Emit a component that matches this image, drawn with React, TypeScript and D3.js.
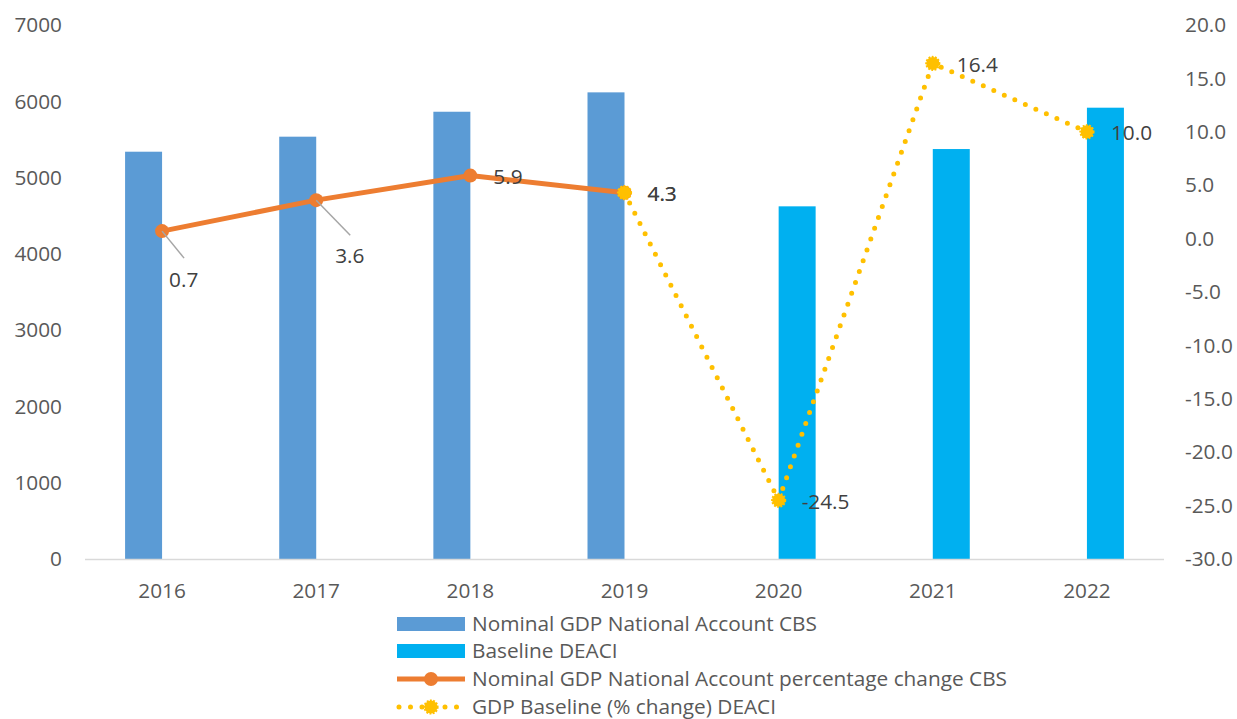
import React from "react";
import * as d3 from "d3";

const years = ["2016", "2017", "2018", "2019", "2020", "2021", "2022"];
const nominalGdpCBS: (number | null)[] = [5339, 5536, 5863, 6117, null, null, null];
const baselineDEACI: (number | null)[] = [null, null, null, null, 4623, 5374, 5916];
const pctChangeCBS: (number | null)[] = [0.7, 3.6, 5.9, 4.3, null, null, null];
const pctChangeDEACI: (number | null)[] = [null, null, null, 4.3, -24.5, 16.4, 10.0];
const leftTicks = [0, 1000, 2000, 3000, 4000, 5000, 6000, 7000];
const rightTicks = [-30, -25, -20, -15, -10, -5, 0, 5, 10, 15, 20];
const legendLabels = [
  "Nominal GDP National Account CBS",
  "Baseline DEACI",
  "Nominal GDP National Account percentage change CBS",
  "GDP Baseline (% change) DEACI",
];

// label placement offsets (text start / baseline relative to marker, optional leader end)
const cbsLabelOffsets = [
  { dx: 7, dy: 56, lx: 22, ly: 27 },
  { dx: 19, dy: 63, lx: 34, ly: 35 },
  { dx: 23, dy: 8.5 },
  { dx: 23, dy: 8.5 },
];
const deaciLabelOffsets = [null, null, null, { dx: 23, dy: 8.5 }, { dx: 23, dy: 8.5 }, { dx: 24, dy: 8.5 }, { dx: 24, dy: 8.5 }];

const W = 1237;
const H = 719;
const FONT = "'Open Sans', sans-serif";
const FS = 20.8;
const AXIS_COLOR = "#595959";
const LABEL_COLOR = "#404040";
const C_CBS = "#5B9BD5";
const C_BASE = "#00B0F0";
const C_ORANGE = "#ED7D31";
const C_YELLOW = "#FFC000";

export default function App() {
  const left = 85, right = 1164, top = 25, bottom = 559;
  const x = d3.scaleBand<string>().domain(years).range([left, right]).padding(0);
  const yL = d3.scaleLinear().domain([0, 7000]).range([bottom, top]);
  const yR = d3.scaleLinear().domain([-30, 20]).range([bottom, top]);
  const bw = x.bandwidth() * 0.24;
  const cx = (yr: string) => (x(yr) as number) + x.bandwidth() / 2;

  const line = d3
    .line<[string, number | null]>()
    .defined((d) => d[1] !== null)
    .x((d) => cx(d[0]))
    .y((d) => yR(d[1] as number));

  const cbsPts = years.map((y, i) => [y, pctChangeCBS[i]] as [string, number | null]);
  const deaciPts = years.map((y, i) => [y, pctChangeDEACI[i]] as [string, number | null]);

  const Sun = ({ x0, y0 }: { x0: number; y0: number }) => (
    <circle cx={x0} cy={y0} r={6.5} fill={C_YELLOW} stroke={C_YELLOW} strokeWidth={2.2} strokeDasharray="1.8 1.4" />
  );

  const legendX = 397, legendW = 68, legendTextX = 472;
  const legendY = [624, 651, 679, 707];

  return (
    <svg width={W} height={H} style={{ position: "absolute", left: 0, top: 0, background: "#fff" }} fontFamily={FONT}>
      {/* bars */}
      {years.map((yr, i) =>
        nominalGdpCBS[i] !== null ? (
          <rect key={"c" + yr} x={cx(yr) - bw} y={yL(nominalGdpCBS[i] as number)} width={bw} height={bottom - yL(nominalGdpCBS[i] as number)} fill={C_CBS} />
        ) : null
      )}
      {years.map((yr, i) =>
        baselineDEACI[i] !== null ? (
          <rect key={"b" + yr} x={cx(yr)} y={yL(baselineDEACI[i] as number)} width={bw} height={bottom - yL(baselineDEACI[i] as number)} fill={C_BASE} />
        ) : null
      )}
      {/* x axis line */}
      <line x1={left} x2={right} y1={bottom + 0.5} y2={bottom + 0.5} stroke="#D9D9D9" strokeWidth={1.5} />

      {/* left ticks */}
      {leftTicks.map((t) => (
        <text key={"l" + t} x={62} y={yL(t)} dy="0.35em" textAnchor="end" fontSize={FS} fill={AXIS_COLOR}>
          {t}
        </text>
      ))}
      {/* right ticks */}
      {rightTicks.map((t) => (
        <text key={"r" + t} x={1185} y={yR(t)} dy="0.35em" textAnchor="start" fontSize={FS} fill={AXIS_COLOR}>
          {t.toFixed(1)}
        </text>
      ))}
      {/* x ticks */}
      {years.map((yr) => (
        <text key={"x" + yr} x={cx(yr)} y={598} textAnchor="middle" fontSize={FS} fill={AXIS_COLOR}>
          {yr}
        </text>
      ))}

      {/* orange line */}
      <path d={line(cbsPts) || ""} fill="none" stroke={C_ORANGE} strokeWidth={5} strokeLinejoin="round" />
      {cbsPts.map((d) => (d[1] !== null ? <circle key={"o" + d[0]} cx={cx(d[0])} cy={yR(d[1])} r={7} fill={C_ORANGE} /> : null))}

      {/* yellow dotted line */}
      <path d={line(deaciPts) || ""} fill="none" stroke={C_YELLOW} strokeWidth={5} strokeLinecap="round" strokeDasharray="0 11.5" />
      {deaciPts.map((d) => (d[1] !== null ? <Sun key={"s" + d[0]} x0={cx(d[0])} y0={yR(d[1])} /> : null))}

      {/* labels CBS */}
      {cbsPts.map((d, i) => {
        const o = cbsLabelOffsets[i];
        if (d[1] === null || !o) return null;
        const mx = cx(d[0]), my = yR(d[1]);
        return (
          <g key={"lc" + i}>
            {o.lx !== undefined ? <line x1={mx} y1={my} x2={mx + o.lx} y2={my + (o.ly as number)} stroke="#A6A6A6" strokeWidth={1.5} /> : null}
            <text x={mx + o.dx} y={my + o.dy} fontSize={FS} fill={LABEL_COLOR}>
              {d[1].toFixed(1)}
            </text>
          </g>
        );
      })}
      {deaciPts.map((d, i) => {
        const o = deaciLabelOffsets[i];
        if (d[1] === null || !o) return null;
        const mx = cx(d[0]), my = yR(d[1]);
        return (
          <text key={"ld" + i} x={mx + o.dx} y={my + o.dy} fontSize={FS} fill={LABEL_COLOR}>
            {d[1].toFixed(1)}
          </text>
        );
      })}

      {/* legend */}
      <rect x={legendX} y={legendY[0] - 7} width={legendW} height={14} fill={C_CBS} />
      <rect x={legendX} y={legendY[1] - 7} width={legendW} height={14} fill={C_BASE} />
      <line x1={legendX} x2={legendX + legendW} y1={legendY[2]} y2={legendY[2]} stroke={C_ORANGE} strokeWidth={5} />
      <circle cx={legendX + legendW / 2} cy={legendY[2]} r={7} fill={C_ORANGE} />
      <line x1={legendX + 2} x2={legendX + legendW} y1={legendY[3]} y2={legendY[3]} stroke={C_YELLOW} strokeWidth={5} strokeLinecap="round" strokeDasharray="0 11.5" />
      <Sun x0={legendX + legendW / 2} y0={legendY[3]} />
      {legendLabels.map((l, i) => (
        <text key={"lg" + i} x={legendTextX} y={legendY[i]} dy="0.35em" fontSize={FS} fill={AXIS_COLOR}>
          {l}
        </text>
      ))}
    </svg>
  );
}
